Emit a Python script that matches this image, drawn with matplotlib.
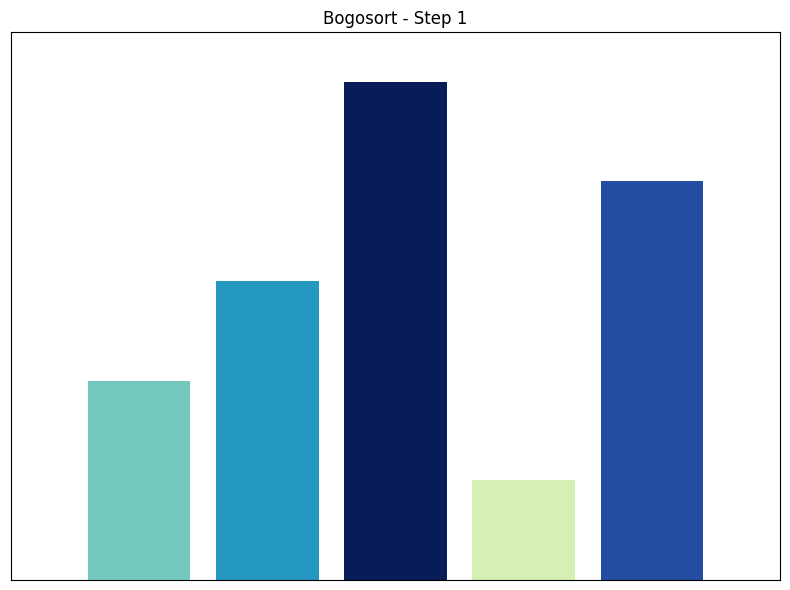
import matplotlib
matplotlib.use("Agg")
from matplotlib import pyplot as plt

# data
values = [2, 3, 5, 1, 4]
step = 1

positions = range(len(values))
colors = [plt.cm.YlGnBu(v / max(values)) for v in values]

fig, ax = plt.subplots(figsize=(7.9, 5.9), dpi=100)
ax.bar(positions, values, color=colors, width=0.8)
ax.set_xlim(-1, len(values))
ax.set_ylim(0, max(values) * 1.1)
ax.set_xticks([])
ax.set_yticks([])
ax.set_title(f"Bogosort - Step {step}")

fig.subplots_adjust(left=11 / 790, right=780 / 790, top=1 - 32 / 590, bottom=1 - 580 / 590)
plt.savefig("out.png")
